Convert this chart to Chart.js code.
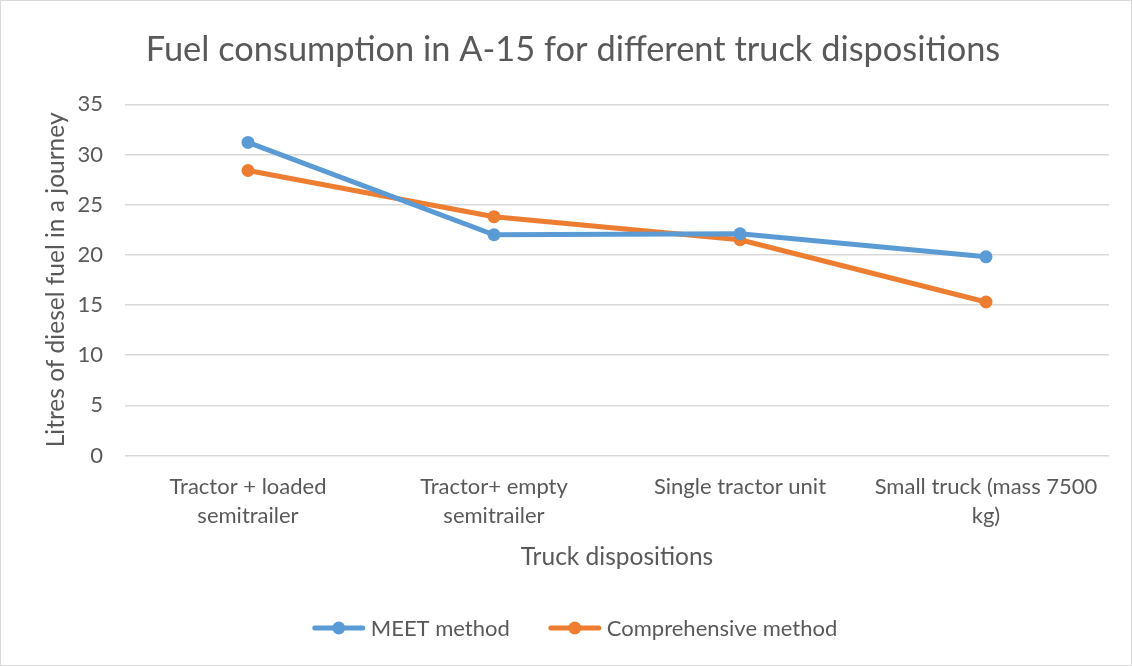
<!DOCTYPE html>
<html>
<head>
<meta charset="utf-8">
<script src="https://cdn.jsdelivr.net/npm/chart.js@4"></script>
<style>
  html, body { margin: 0; padding: 0; background: #fff; }
  #wrap { width: 1130px; height: 664px; border: 1px solid #d9d9d9; }
</style>
</head>
<body>
<div id="wrap"><canvas id="myChart"></canvas></div>
<script>
const blueColor = '#5b9bd5'
const orangeColor = '#ed7d31'
const textColor = '#595959'
const gridColor = '#d9d9d9'
const fontFamily = 'Lato, "Open Sans", sans-serif'

// category labels, split into lines as in the reference
const categories = [
  ['Tractor + loaded', 'semitrailer'],
  ['Tractor+ empty', 'semitrailer'],
  'Single tractor unit',
  ['Small truck (mass 7500', 'kg)']
]
const meetValues = [31.2, 22.0, 22.1, 19.8]
const comprehensiveValues = [28.4, 23.8, 21.5, 15.3]
const yTicks = [0, 5, 10, 15, 20, 25, 30, 35]

// Excel style legend: a line with a dot, then the label
const excelLegend = {
  id: 'excelLegend',
  afterDraw: function(chart) {
    var c = chart.ctx
    var markerW = 52
    var textGap = 6
    var itemGap = 39
    c.save()
    c.font = '22px ' + fontFamily
    var items = chart.data.datasets.map(function(ds) {
      return { ds: ds, w: markerW + textGap + c.measureText(ds.label).width }
    })
    var total = items.reduce(function(s, it) { return s + it.w }, 0) + itemGap * (items.length - 1)
    var x = 574 - total / 2
    var y = 627
    items.forEach(function(it) {
      c.strokeStyle = it.ds.borderColor
      c.lineWidth = 5
      c.lineCap = 'round'
      c.beginPath()
      c.moveTo(x + 2, y)
      c.lineTo(x + markerW - 2, y)
      c.stroke()
      c.fillStyle = it.ds.borderColor
      c.beginPath()
      c.arc(x + markerW / 2, y, 6.5, 0, Math.PI * 2)
      c.fill()
      c.fillStyle = textColor
      c.textBaseline = 'middle'
      c.textAlign = 'left'
      c.fillText(it.ds.label, x + markerW + textGap, y + 1)
      x += it.w + itemGap
    })
    c.restore()
  }
}

var ctx = document.getElementById('myChart')
ctx.width = 1130
ctx.height = 664

var data = {
  labels: categories,
  datasets: [
    {
      label: 'MEET method',
      data: meetValues,
      borderColor: blueColor,
      backgroundColor: blueColor,
      borderWidth: 5,
      pointRadius: 6.5,
      pointHoverRadius: 6.5,
      pointBorderWidth: 0,
      fill: false,
      tension: 0
    },
    {
      label: 'Comprehensive method',
      data: comprehensiveValues,
      borderColor: orangeColor,
      backgroundColor: orangeColor,
      borderWidth: 5,
      pointRadius: 6.5,
      pointHoverRadius: 6.5,
      pointBorderWidth: 0,
      fill: false,
      tension: 0
    }
  ]
}

var lineChart = new Chart(ctx, {
  type: 'line',
  data: data,
  plugins: [excelLegend],
  options: {
    responsive: false,
    animation: false,
    maintainAspectRatio: false,
    layout: { padding: { left: 36, right: 22, top: 10, bottom: 10 } },
    plugins: {
      title: {
        display: true,
        text: 'Fuel consumption in A-15 for different truck dispositions',
        color: textColor,
        font: { family: fontFamily, size: 34.4, weight: 'normal' },
        padding: { top: 18, bottom: 34 }
      },
      legend: { display: false },
      tooltip: { enabled: false }
    },
    scales: {
      x: {
        offset: true,
        grid: { display: false },
        border: { display: false },
        ticks: {
          color: textColor,
          font: { family: fontFamily, size: 22, lineHeight: 1.32 },
          maxRotation: 0,
          autoSkip: false,
          padding: 9
        },
        title: {
          display: true,
          text: 'Truck dispositions',
          color: textColor,
          font: { family: fontFamily, size: 24.5 },
          padding: { top: 3, bottom: 83 }
        }
      },
      y: {
        min: 0,
        max: 35,
        afterBuildTicks: function(axis) {
          axis.ticks = yTicks.map(function(v) { return { value: v } })
        },
        afterFit: function(axis) {
          axis.width = 88
        },
        grid: { color: gridColor, lineWidth: 1.5, drawTicks: false },
        border: { display: false },
        ticks: {
          color: textColor,
          font: { family: fontFamily, size: 22 },
          padding: 22
        },
        title: {
          display: true,
          text: 'Litres of diesel fuel in a journey',
          color: textColor,
          font: { family: fontFamily, size: 24.5 },
          padding: { top: 4, bottom: 0 }
        }
      }
    }
  }
})
</script>
</body>
</html>
